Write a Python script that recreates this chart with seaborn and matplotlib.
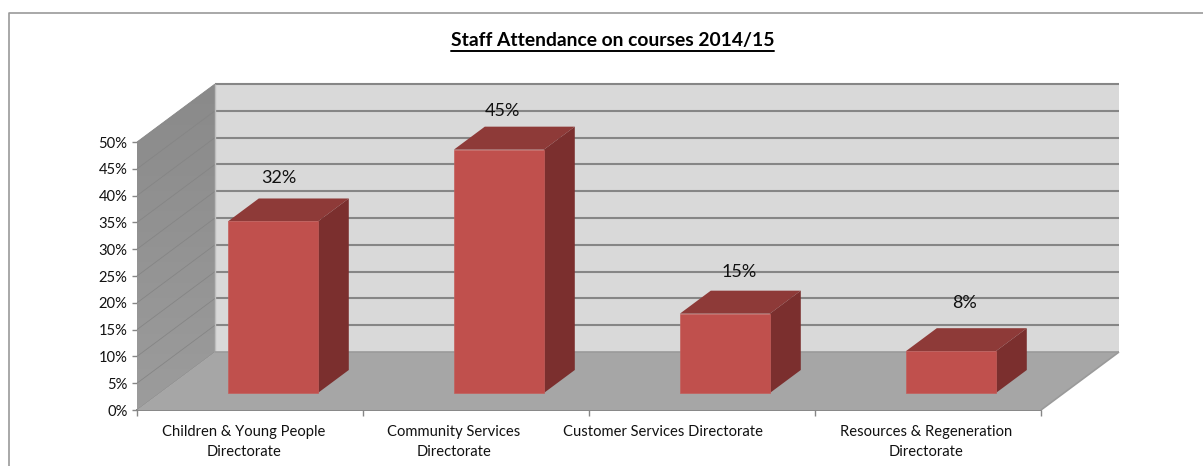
import matplotlib
matplotlib.use("Agg")
import numpy as np
import pandas as pd
import matplotlib.pyplot as plt
from matplotlib.lines import Line2D
from matplotlib.patches import Polygon
import seaborn as sns

directorates = ["Children & Young People\nDirectorate", "Community Services\nDirectorate",
                "Customer Services Directorate", "Resources & Regeneration\nDirectorate"]
attendance = [32, 45.4, 14.8, 7.8]
y_ticks = [0, 5, 10, 15, 20, 25, 30, 35, 40, 45, 50]
title = "Staff Attendance on courses 2014/15"

W, H = 1203, 466
GREY = "#868686"

sns.set_theme(style="white")
plt.rcParams["font.family"] = ["Lato", "DejaVu Sans"]

fig = plt.figure(figsize=(W / 100, H / 100), dpi=100)
ax = fig.add_axes([137 / W, 1 - 410 / H, (1041 - 137) / W, 268 / H])

df = pd.DataFrame({"directorate": directorates, "attendance": attendance})
sns.barplot(data=df, x="directorate", y="attendance", color="#C0504D", saturation=1,
            width=90 / 226, order=directorates, ax=ax, zorder=5)
ax.set_xlim(-0.5, 3.5)
ax.set_ylim(0, 50)

# oblique projection of the box: depth 0 = front of floor, depth 1 = back wall
DX = 78 / 226
DY = 58 / 5.36


def proj(x, y, depth):
    return (x + depth * DX, y + depth * DY)


def face(points, color, z, **kw):
    ax.add_patch(Polygon([proj(*p) for p in points], closed=True, facecolor=color,
                         edgecolor=kw.pop("edgecolor", "none"), clip_on=False, zorder=z, **kw))


def seg(a, b, color=GREY, lw=1.5, z=2):
    pa, pb = proj(*a), proj(*b)
    ax.add_line(Line2D([pa[0], pb[0]], [pa[1], pb[1]], color=color, lw=lw, clip_on=False,
                       zorder=z, solid_capstyle="butt"))


# walls and floor
face([(-0.5, 0, 1), (3.5, 0, 1), (3.5, 50, 1), (-0.5, 50, 1)], "#D9D9D9", 1)
side = Polygon([proj(-0.5, 0, 0), proj(-0.5, 50, 0), proj(-0.5, 50, 1), proj(-0.5, 0, 1)],
               closed=True, facecolor="none", edgecolor="none", clip_on=False,
               transform=ax.transData)
ax.add_patch(side)
gradient = np.linspace(0, 1, 64).reshape(-1, 1)
img = ax.imshow(gradient, extent=(-0.5, -0.5 + DX, 0, 50 + DY), origin="lower", aspect="auto",
                cmap=matplotlib.colors.LinearSegmentedColormap.from_list("w", ["#9C9C9C", "#8A8A8A"]),
                zorder=1.5)
img.set_clip_box(fig.bbox)
img.set_clip_path(side)
ax.set_xlim(-0.5, 3.5)
ax.set_ylim(0, 50)
face([(-0.5, 0, 0), (3.5, 0, 0), (3.5, 0, 1), (-0.5, 0, 1)], "#A6A6A6", 3)

for v in y_ticks:
    if v > 0:
        seg((-0.5, v, 1), (3.5, v, 1))
    seg((-0.5, v, 0), (-0.5, v, 1), color="#858585", lw=0.6, z=1.8)
seg((-0.5, 0, 1), (-0.5, 50, 1), color="#BDBDBD", lw=1, z=2)
seg((-0.5, 0, 1), (3.5, 0, 1), color="#9A9A9A", lw=1.2, z=3.1)
seg((3.5, 0, 0), (3.5, 0, 1), color="#9A9A9A", lw=1.2, z=3.1)

# bars: seaborn draws the front faces, pushed back onto the floor, then the box sides
BAR_FRONT = 17 / 58
BAR_BACK = 40 / 58
for patch in list(ax.patches):
    if patch.get_zorder() != 5:
        continue
    x0, w, h = patch.get_x(), patch.get_width(), patch.get_height()
    px, py = proj(x0, 0, BAR_FRONT)
    patch.set_x(px)
    patch.set_y(py)
    patch.set_edgecolor("#C45F5C")
    patch.set_linewidth(0.5)
    patch.set_clip_on(False)
    x1 = x0 + w
    face([(x0, h, BAR_FRONT), (x1, h, BAR_FRONT), (x1, h, BAR_BACK), (x0, h, BAR_BACK)], "#8E3A38", 4)
    face([(x1, 0, BAR_FRONT), (x1, h, BAR_FRONT), (x1, h, BAR_BACK), (x1, 0, BAR_BACK)], "#7B2F2E", 4)

# data labels, Excel places them a little unevenly
label_dx = [-25, -27, -17, -17]
label_dy = [20, 16, 19, 25]
for i, v in enumerate(attendance):
    top = proj(i, v, BAR_BACK)
    ax.annotate(f"{round(v)}%", xy=top, xytext=(label_dx[i], label_dy[i]), textcoords="offset pixels",
                ha="center", va="center", fontsize=13, color="#111111", annotation_clip=False, zorder=7)

# axes
for s in ["top", "right", "left"]:
    ax.spines[s].set_visible(False)
ax.spines["bottom"].set_color(GREY)
ax.spines["bottom"].set_linewidth(1.4)
ax.set_xlabel("")
ax.set_ylabel("")
ax.set_yticks(y_ticks, [f"{v}%" for v in y_ticks])
ax.tick_params(axis="y", length=3.8, width=1, color=GREY, labelsize=10.6, labelcolor="#111111", left=True, pad=3)
label_pos = np.array([244, 454, 663, 926])
ax.set_xticks((label_pos - 137) / 226 - 0.5, directorates)
ax.tick_params(axis="x", length=0, labelsize=10.6, labelcolor="#111111", pad=11)
ax.set_xticks([-0.5, 0.5, 1.5, 2.5, 3.5], minor=True)
ax.tick_params(axis="x", which="minor", bottom=True, length=4, width=1, color=GREY)
for lab in ax.get_xticklabels():
    lab.set_linespacing(1.55)

# title with underline, and the chart frame on the top and left only
t = fig.text(612.5 / W, 1 - 40.5 / H, title, ha="center", va="center", fontsize=13.85, fontweight="bold", color="#000000")
fig.canvas.draw()
bb = t.get_window_extent()
fig.add_artist(Line2D([bb.x0 / W, bb.x1 / W], [1 - 50.5 / H, 1 - 50.5 / H], color="black", lw=1.4))
fig.add_artist(Line2D([8.5 / W, 8.5 / W, 1], [0, 1 - 12.5 / H, 1 - 12.5 / H], color="#9A9A9A", lw=1.2))

fig.savefig("out.png", dpi=100, facecolor="white")
